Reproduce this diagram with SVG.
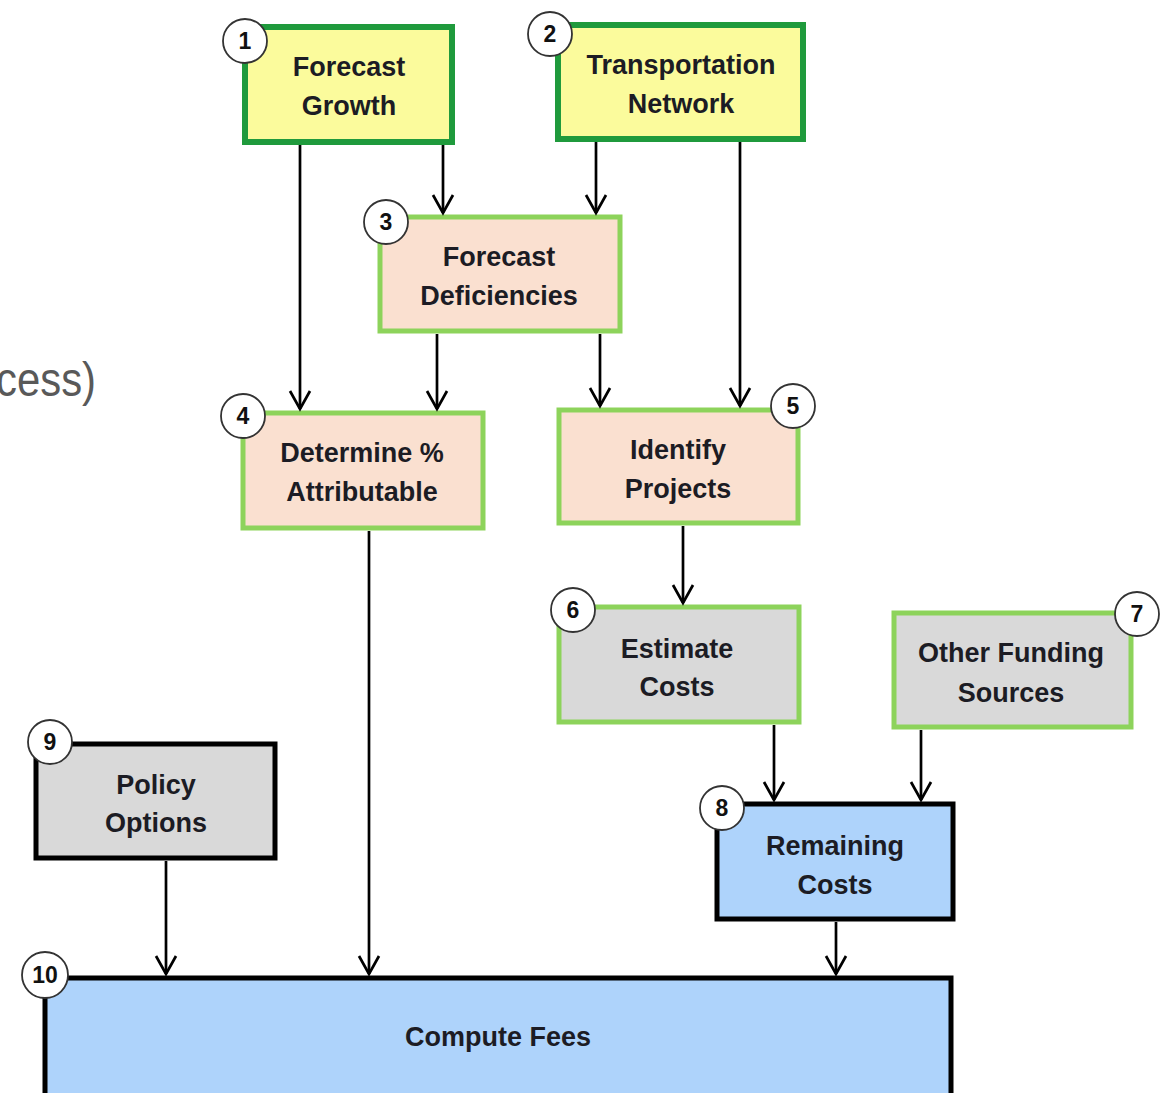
<svg xmlns="http://www.w3.org/2000/svg" width="1163" height="1093" viewBox="0 0 1163 1093">
<style>
.lbl{font-family:"Liberation Sans",Arial,sans-serif;font-weight:bold;font-size:27px;fill:#1c1c24;text-anchor:middle}
.num{font-family:"Liberation Sans",Arial,sans-serif;font-weight:bold;font-size:23px;fill:#111;text-anchor:middle}
.badge{fill:#fff;stroke:#333;stroke-width:1.8}
.yel{fill:#fbfb9c;stroke:#1f9a3c;stroke-width:6}
.pch{fill:#fae0d0;stroke:#8dd35b;stroke-width:5}
.gry{fill:#d9d9d9;stroke:#8dd35b;stroke-width:5}
.gryk{fill:#d9d9d9;stroke:#000;stroke-width:5}
.blu{fill:#aed3fb;stroke:#000;stroke-width:5}
.con line{stroke:#000;stroke-width:2.7}
.con path{fill:none;stroke:#000;stroke-width:2.7}
</style>
<rect width="1163" height="1093" fill="#fff"/>
<text x="-4" y="396" font-family="'Liberation Sans',Arial,sans-serif" font-size="48" fill="#595959" textLength="100" lengthAdjust="spacingAndGlyphs">cess)</text>

<g id="n1"><rect class="yel" x="245" y="27" width="207" height="115"/><text class="lbl" x="349" y="76">Forecast</text><text class="lbl" x="349" y="115">Growth</text><circle class="badge" cx="245" cy="41" r="22"/><text class="num" x="245" y="49">1</text></g>
<g id="n2"><rect class="yel" x="558" y="25" width="245" height="114"/><text class="lbl" x="681" y="74">Transportation</text><text class="lbl" x="681" y="113">Network</text><circle class="badge" cx="550" cy="34" r="22"/><text class="num" x="550" y="42">2</text></g>
<g id="n3"><rect class="pch" x="380" y="217" width="240" height="114"/><text class="lbl" x="499" y="266">Forecast</text><text class="lbl" x="499" y="305">Deficiencies</text><circle class="badge" cx="386" cy="222" r="22"/><text class="num" x="386" y="230">3</text></g>
<g id="n4"><rect class="pch" x="243" y="413" width="240" height="115"/><text class="lbl" x="362" y="462">Determine %</text><text class="lbl" x="362" y="501">Attributable</text><circle class="badge" cx="243" cy="416" r="22"/><text class="num" x="243" y="424">4</text></g>
<g id="n5"><rect class="pch" x="559" y="410" width="239" height="113"/><text class="lbl" x="678" y="459">Identify</text><text class="lbl" x="678" y="498">Projects</text><circle class="badge" cx="793" cy="406" r="22"/><text class="num" x="793" y="414">5</text></g>
<g id="n6"><rect class="gry" x="559" y="607" width="240" height="115"/><text class="lbl" x="677" y="658">Estimate</text><text class="lbl" x="677" y="696">Costs</text><circle class="badge" cx="573" cy="610" r="22"/><text class="num" x="573" y="618">6</text></g>
<g id="n7"><rect class="gry" x="894" y="613" width="237" height="114"/><text class="lbl" x="1011" y="662">Other Funding</text><text class="lbl" x="1011" y="702">Sources</text><circle class="badge" cx="1137" cy="614" r="22"/><text class="num" x="1137" y="622">7</text></g>
<g id="n9"><rect class="gryk" x="36" y="744" width="239" height="114"/><text class="lbl" x="156" y="794">Policy</text><text class="lbl" x="156" y="832">Options</text><circle class="badge" cx="50" cy="742" r="22"/><text class="num" x="50" y="750">9</text></g>
<g id="n8"><rect class="blu" x="717" y="804" width="236" height="115"/><text class="lbl" x="835" y="855">Remaining</text><text class="lbl" x="835" y="894">Costs</text><circle class="badge" cx="722" cy="808" r="22"/><text class="num" x="722" y="816">8</text></g>
<g id="n10"><rect class="blu" x="45" y="978" width="906" height="120"/><text class="lbl" x="498" y="1046">Compute Fees</text><circle class="badge" cx="45" cy="975" r="23"/><text class="num" x="45" y="983" font-size="20">10</text></g>

<g id="connectors" class="con">
<line x1="300" y1="145" x2="300" y2="409"/><path d="M290,391 L300,409 L310,391"/>
<line x1="443" y1="145" x2="443" y2="213"/><path d="M433,195 L443,213 L453,195"/>
<line x1="596" y1="142" x2="596" y2="213"/><path d="M586,195 L596,213 L606,195"/>
<line x1="740" y1="142" x2="740" y2="406"/><path d="M730,388 L740,406 L750,388"/>
<line x1="437" y1="334" x2="437" y2="409"/><path d="M427,391 L437,409 L447,391"/>
<line x1="600" y1="334" x2="600" y2="406"/><path d="M590,388 L600,406 L610,388"/>
<line x1="683" y1="526" x2="683" y2="603"/><path d="M673,585 L683,603 L693,585"/>
<line x1="774" y1="725" x2="774" y2="800"/><path d="M764,782 L774,800 L784,782"/>
<line x1="921" y1="730" x2="921" y2="800"/><path d="M911,782 L921,800 L931,782"/>
<line x1="166" y1="861" x2="166" y2="974"/><path d="M156,956 L166,974 L176,956"/>
<line x1="369" y1="531" x2="369" y2="974"/><path d="M359,956 L369,974 L379,956"/>
<line x1="836" y1="922" x2="836" y2="974"/><path d="M826,956 L836,974 L846,956"/>
</g>
</svg>
